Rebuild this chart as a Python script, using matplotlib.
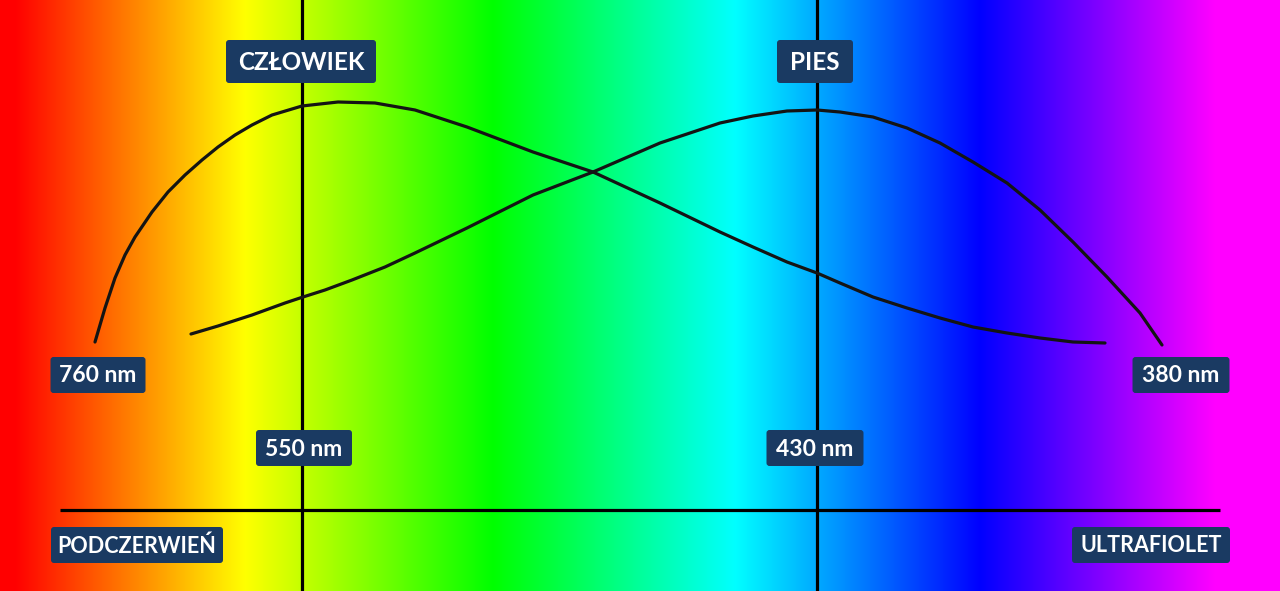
import numpy as np
import matplotlib.pyplot as plt
from matplotlib.patches import FancyBboxPatch

# sensitivity curves (x along the spectrum, y downwards in px)
human_x = [95, 105, 115, 125, 135, 152, 168, 185, 202, 218, 235, 252, 272, 302,
           338, 375, 415, 467, 533, 593, 660, 720, 753, 787, 817, 840, 873, 907,
           940, 973, 1007, 1040, 1073, 1105]
human_y = [342, 308, 278, 255, 237, 212, 192, 175, 160, 147, 135, 125, 115, 106,
           102, 103, 110, 127, 152, 172, 203, 232, 247, 262, 273, 283, 297, 308,
           318, 327, 333, 338, 342, 343]

dog_x = [191, 218, 252, 285, 303, 325, 352, 385, 415, 467, 533, 593, 660, 720,
         753, 787, 817, 840, 873, 907, 940, 973, 1007, 1040, 1073, 1107, 1140, 1162]
dog_y = [334, 326, 315, 303, 297, 290, 280, 267, 253, 228, 195, 172, 143, 123,
         116, 111, 110, 112, 117, 128, 143, 162, 183, 210, 242, 277, 313, 345]

# peak markers (human 550 nm, dog 430 nm)
peak_x = [302, 817]

labels = ['CZŁOWIEK', 'PIES', '760 nm', '380 nm', '550 nm', '430 nm',
          'PODCZERWIEŃ', 'ULTRAFIOLET']
label_x = [301, 815, 98, 1181, 304, 815, 137, 1151]
label_y = [61.5, 61.5, 375, 375, 448, 448, 545, 545]
box_w = [150, 76, 95, 97, 96, 97, 172, 158]
box_h = [43, 43, 36, 36, 36, 36, 36, 36]
font_sz = [17.5, 17.5, 16.5, 16.5, 16.5, 16.5, 15.5, 15.5]

W, H = 1280, 591
navy = '#1a3a62'

# rainbow background
stops = [0, 15, 245, 493, 735, 980, 1215, 1280]
cols = np.array([[255, 0, 0], [255, 0, 0], [255, 255, 0], [0, 255, 0],
                 [0, 255, 255], [0, 0, 255], [255, 0, 255], [255, 0, 255]]) / 255.0
xs = np.arange(W) + 0.5
grad = np.stack([np.interp(xs, stops, cols[:, c]) for c in range(3)], axis=-1)[None, :, :]

fig = plt.figure(figsize=(12.8, 5.91), dpi=100)
ax = fig.add_axes([0, 0, 1, 1])
ax.imshow(grad, extent=[0, W, H, 0], aspect='auto', interpolation='bilinear', zorder=0)
ax.set_xlim(0, W)
ax.set_ylim(H, 0)
ax.axis('off')

for px in peak_x:
    ax.axvline(px, color='black', lw=2.3, zorder=2)
ax.plot([60, 1220], [510, 510], color='black', lw=2.3, solid_capstyle='butt', zorder=2)

for cx, cy in [(human_x, human_y), (dog_x, dog_y)]:
    ax.plot(cx, cy, color='#141414', lw=2.3, solid_capstyle='round',
            solid_joinstyle='round', zorder=3)

for t, x, y, w, h, fs in zip(labels, label_x, label_y, box_w, box_h, font_sz):
    ax.add_patch(FancyBboxPatch((x - w / 2, y - h / 2), w, h,
                                boxstyle='round,pad=0,rounding_size=3',
                                fc=navy, ec='none', zorder=4))
    ax.text(x, y + 1, t, color='white', fontsize=fs, fontweight='bold',
            family=['Lato', 'DejaVu Sans'], ha='center', va='center', zorder=5)

fig.savefig('out.png', dpi=100)
